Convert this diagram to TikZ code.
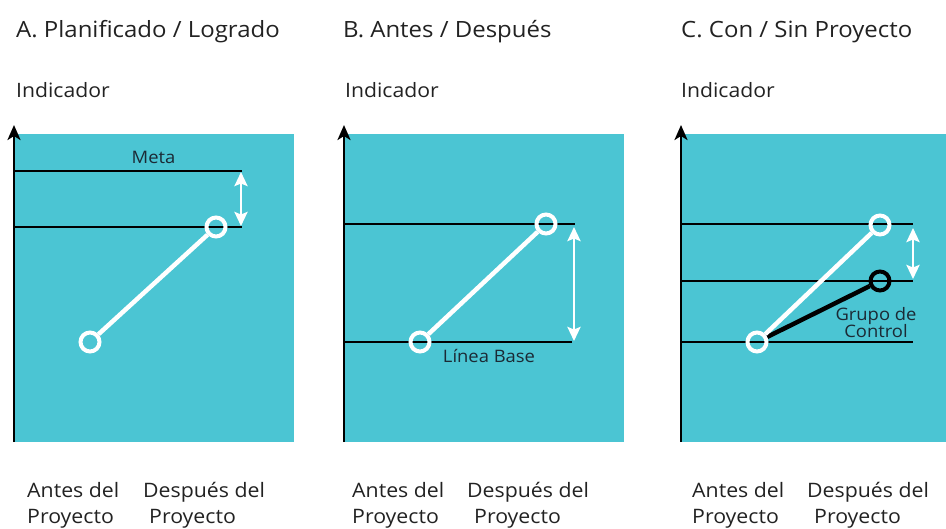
\documentclass[tikz,border=0pt]{standalone}
\usepackage{fontspec}
\setmainfont[FakeStretch=1.07]{Open Sans}
\usetikzlibrary{arrows.meta}
\definecolor{teal1}{HTML}{4BC5D3}
\definecolor{txt}{HTML}{1B2A35}
\definecolor{dark}{HTML}{222222}
\begin{document}
\begin{tikzpicture}[x=1pt,y=-1pt,
 panel/.style={fill=teal1, draw=none},
 axis/.style={line width=2.8pt, -{Stealth[length=15pt,width=13pt,inset=4pt]}},
 level/.style={line width=1.3pt},
 pt/.style={circle, draw=white, line width=4pt, minimum size=19pt, inner sep=0pt},
 ptk/.style={pt, draw=black},
 link/.style={white, line width=4.5pt},
 linkk/.style={black, line width=4.5pt},
 gap/.style={white, line width=2.8pt, {Stealth[length=14pt,width=13pt,inset=2.5pt]}-{Stealth[length=14pt,width=13pt,inset=2.5pt]}},
 title/.style={anchor=base west, font=\fontsize{22.4}{26}\selectfont, text=dark, inner sep=0pt},
 ylab/.style={anchor=base west, font=\fontsize{19.8}{22}\selectfont, text=dark, inner sep=0pt},
 inlab/.style={anchor=base, font=\fontsize{17.2}{19}\selectfont, text=txt, inner sep=0pt},
 xlab/.style={anchor=base west, font=\fontsize{19.9}{22}\selectfont, text=dark, inner sep=0pt}
]
\useasboundingbox (0,0) rectangle (946,528);

% ---------- Panel A ----------
\node[title] (ta) at (16,37) {A. Planificado / Logrado};
\node[ylab] (ya) at (16,97) {Indicador};
\fill[panel] (14,134) rectangle (294,442);
\coordinate (a0) at (14,442);
\coordinate (a1) at (14,125);
\draw[axis] (a0) -- (a1);
\coordinate (am1) at (14,171); \coordinate (am2) at (242,171);
\coordinate (al1) at (14,227); \coordinate (al2) at (242,227);
\draw[level] (am1) -- (am2);
\draw[level] (al1) -- (al2);
\node[inlab] (meta) at (153.5,163) {Meta};
\node[pt] (aA) at (90,342) {};
\node[pt] (aD) at (216,227) {};
\draw[link] (aA) -- (aD);
\coordinate (ag1) at (241,172); \coordinate (ag2) at (241,226);
\draw[gap] (ag1) -- (ag2);
\node[xlab] (xa1) at (27,497) {Antes del};
\node[xlab] (xa2) at (27,523) {Proyecto};
\node[xlab] (xa3) at (143,497) {Después del};
\node[xlab] (xa4) at (149,523) {Proyecto};

% ---------- Panel B ----------
\node[title] (tb) at (343,37) {B. Antes / Después};
\node[ylab] (yb) at (345,97) {Indicador};
\fill[panel] (344,134) rectangle (624,442);
\coordinate (b0) at (344,442);
\coordinate (b1) at (344,125);
\draw[axis] (b0) -- (b1);
\coordinate (bh1) at (344,224); \coordinate (bh2) at (575,224);
\coordinate (bb1) at (344,342); \coordinate (bb2) at (572,342);
\draw[level] (bh1) -- (bh2);
\draw[level] (bb1) -- (bb2);
\node[pt] (bA) at (420,342) {};
\node[pt] (bD) at (546,224) {};
\draw[link] (bA) -- (bD);
\node[inlab] (base) at (489,362) {Línea Base};
\coordinate (bg1) at (574,227); \coordinate (bg2) at (574,341);
\draw[gap] (bg1) -- (bg2);
\node[xlab] (xb1) at (352,497) {Antes del};
\node[xlab] (xb2) at (352,523) {Proyecto};
\node[xlab] (xb3) at (467,497) {Después del};
\node[xlab] (xb4) at (474,523) {Proyecto};

% ---------- Panel C ----------
\node[title] (tc) at (681,37) {C. Con / Sin Proyecto};
\node[ylab] (yc) at (681,97) {Indicador};
\fill[panel] (681,134) rectangle (946,442);
\coordinate (c0) at (681,442);
\coordinate (c1) at (681,125);
\draw[axis] (c0) -- (c1);
\coordinate (ch1) at (681,224); \coordinate (ch2) at (913,224);
\coordinate (cm1) at (681,281); \coordinate (cm2) at (913,281);
\coordinate (cb1) at (681,342); \coordinate (cb2) at (913,342);
\draw[level] (ch1) -- (ch2);
\draw[level] (cm1) -- (cm2);
\draw[level] (cb1) -- (cb2);
\node[pt] (cA) at (757,342) {};
\node[pt] (cD) at (880,225) {};
\node[ptk] (cK) at (880,281) {};
\draw[linkk] (cA) -- (cK);
\draw[link] (cA) -- (cD);
\node[inlab] (grupo1) at (876,320) {Grupo de};
\node[inlab] (grupo2) at (876,337) {Control};
\coordinate (cg1) at (913,228); \coordinate (cg2) at (913,279);
\draw[gap] (cg1) -- (cg2);
\node[xlab] (xc1) at (692,497) {Antes del};
\node[xlab] (xc2) at (692,523) {Proyecto};
\node[xlab] (xc3) at (807,497) {Después del};
\node[xlab] (xc4) at (814,523) {Proyecto};
\end{tikzpicture}
\end{document}
